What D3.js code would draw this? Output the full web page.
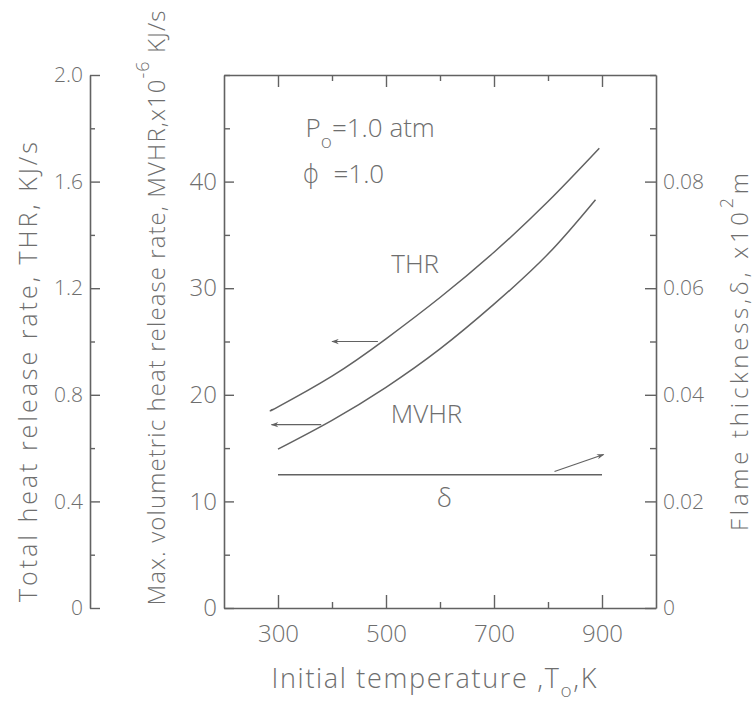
<!DOCTYPE html>
<html>
<head>
<meta charset="utf-8">
<script src="https://cdn.jsdelivr.net/npm/d3@7"></script>
<style>
  body { margin: 0; background: #fff; }
  svg text { font-family: "Open Sans", "DejaVu Sans", sans-serif; font-weight: 300; fill: #6e6e6e; }
</style>
</head>
<body>
<svg id="chart" width="754" height="704"></svg>
<script>
// data (temperature in K)
const thrTemps = [290, 300, 400, 500, 600, 700, 800, 895];
const thrValues = [0.745, 0.755, 0.87, 1.01, 1.165, 1.335, 1.525, 1.725];  // kJ/s
const mvhrTemps = [300, 400, 500, 600, 700, 800, 888];
const mvhrValues = [14.9, 17.6, 20.7, 24.3, 28.5, 33.2, 38.3];             // x10^-6 kJ/s
const deltaTemps = [300, 900];
const deltaValues = [0.025, 0.025];                                        // x10^2 m

const xTicks = [300, 400, 500, 600, 700, 800, 900];
const xLabels = [300, 500, 700, 900];
const mvhrTicks = d3.range(0, 11).map(i => i * 5);
const mvhrLabels = [0, 10, 20, 30, 40];
const thrTicks = d3.range(0, 11).map(i => +(i * 0.2).toFixed(1));
const thrLabels = [0, 0.4, 0.8, 1.2, 1.6, 2.0];
const deltaTicks = d3.range(0, 11).map(i => +(i * 0.01).toFixed(2));
const deltaLabels = [0, 0.02, 0.04, 0.06, 0.08];

const svg = d3.select("#chart");
const ink = "#626262";
const box = { left: 224, right: 656, top: 75, bottom: 608 };

const x = d3.scaleLinear().domain([200, 1000]).range([box.left, box.right]);
const yMvhr = d3.scaleLinear().domain([0, 50]).range([box.bottom, box.top]);
const yThr = d3.scaleLinear().domain([0, 2]).range([box.bottom, box.top]);
const yDelta = d3.scaleLinear().domain([0, 0.1]).range([box.bottom, box.top]);

// ticks point inward, minor ones are shorter
function finish(g, attr, sign, labels, longLen, shortLen, fontSize) {
  g.select(".domain").attr("stroke", ink).attr("stroke-width", 1.6);
  g.selectAll(".tick line")
    .attr("stroke", ink)
    .attr("stroke-width", 1.4)
    .attr(attr, d => sign * (labels.includes(d) ? longLen : shortLen));
  g.selectAll(".tick text").attr("font-size", fontSize);
}

const fmt = f => d => d === 0 ? "0" : d3.format(f)(d);

// bottom
const gBottom = svg.append("g").attr("transform", `translate(0,${box.bottom})`)
  .call(d3.axisBottom(x).tickValues(xTicks).tickSizeInner(-12).tickSizeOuter(0).tickPadding(17)
    .tickFormat(d => xLabels.includes(d) ? d : ""));
finish(gBottom, "y2", -1, xLabels, 13, 6, 24);

// top
const gTop = svg.append("g").attr("transform", `translate(0,${box.top})`)
  .call(d3.axisTop(x).tickValues(xTicks).tickSizeInner(-12).tickSizeOuter(0).tickFormat(""));
finish(gTop, "y2", 1, xLabels, 12, 6, 24);

// left main (MVHR)
const gLeft = svg.append("g").attr("transform", `translate(${box.left},0)`)
  .call(d3.axisLeft(yMvhr).tickValues(mvhrTicks).tickSizeInner(-12).tickSizeOuter(0).tickPadding(7)
    .tickFormat(d => mvhrLabels.includes(d) ? d : ""));
finish(gLeft, "x2", 1, mvhrLabels, 10, 6, 24);

// right (flame thickness)
const gRight = svg.append("g").attr("transform", `translate(${box.right},0)`)
  .call(d3.axisRight(yDelta).tickValues(deltaTicks).tickSizeInner(-12).tickSizeOuter(0).tickPadding(7)
    .tickFormat(d => deltaLabels.includes(d) ? fmt(".2f")(d) : ""));
finish(gRight, "x2", -1, deltaLabels, 11, 6, 21);

// outer left (THR)
const gThr = svg.append("g").attr("transform", "translate(90,0)")
  .call(d3.axisLeft(yThr).tickValues(thrTicks).tickSizeInner(-10).tickSizeOuter(0).tickPadding(7)
    .tickFormat(d => thrLabels.includes(d) ? fmt(".1f")(d) : ""));
finish(gThr, "x2", 1, thrLabels, 10, 5, 21);

// curves
const line = (y) => d3.line().x(d => x(d[0])).y(d => y(d[1])).curve(d3.curveNatural);

svg.append("path")
  .datum(d3.zip(thrTemps, thrValues))
  .attr("d", line(yThr))
  .attr("fill", "none").attr("stroke", ink).attr("stroke-width", 1.5);

svg.append("path")
  .datum(d3.zip(mvhrTemps, mvhrValues))
  .attr("d", line(yMvhr))
  .attr("fill", "none").attr("stroke", ink).attr("stroke-width", 1.5);

svg.append("path")
  .datum(d3.zip(deltaTemps, deltaValues))
  .attr("d", line(yDelta))
  .attr("fill", "none").attr("stroke", ink).attr("stroke-width", 1.5);

// arrows telling which axis each curve belongs to
svg.append("defs").append("marker")
  .attr("id", "head")
  .attr("viewBox", "0 -4 10 8")
  .attr("refX", 9).attr("refY", 0)
  .attr("markerWidth", 9).attr("markerHeight", 6)
  .attr("markerUnits", "userSpaceOnUse")
  .attr("orient", "auto")
  .append("path")
    .attr("d", "M0,-3.5L10,0L0,3.5L3,0Z")
    .attr("fill", ink);

const arrows = [
  { y: yThr, from: [485, 1.0], to: [400, 1.0] },
  { y: yMvhr, from: [380, 17.2], to: [288, 17.2] },
  { y: yDelta, from: [812, 0.0256], to: [903, 0.0288] }
];

svg.selectAll(".arrow")
  .data(arrows)
  .join("line")
    .classed("arrow", true)
    .attr("x1", d => x(d.from[0])).attr("y1", d => d.y(d.from[1]))
    .attr("x2", d => x(d.to[0])).attr("y2", d => d.y(d.to[1]))
    .attr("stroke", ink).attr("stroke-width", 1.2)
    .attr("marker-end", "url(#head)");

// curve labels
const notes = svg.append("g").attr("font-size", 26);
notes.append("text").attr("x", x(554)).attr("y", yMvhr(31.4))
  .attr("text-anchor", "middle").text("THR");
notes.append("text").attr("x", x(575)).attr("y", yMvhr(17.4))
  .attr("text-anchor", "middle").text("MVHR");
notes.append("text").attr("x", x(608)).attr("y", yMvhr(9.5))
  .attr("text-anchor", "middle").text("δ");

const p = notes.append("text").attr("x", x(351)).attr("y", yMvhr(44.2));
p.append("tspan").text("P");
p.append("tspan").attr("dy", 11).attr("font-size", 19).text("o");
p.append("tspan").attr("dy", -11).text("=1.0 atm");

const phi = notes.append("text").attr("x", x(345)).attr("y", yMvhr(39.9));
phi.append("tspan").text("ϕ");
phi.append("tspan").attr("dx", 14).text("=1.0");

// axis titles, stretched to the span they take in the figure
const xt = svg.append("text")
  .attr("x", 434).attr("y", 688)
  .attr("text-anchor", "middle").attr("font-size", 27)
  .attr("textLength", 325).attr("lengthAdjust", "spacing");
xt.append("tspan").text("Initial temperature ,T");
xt.append("tspan").attr("dy", 9).attr("font-size", 19).text("o");
xt.append("tspan").attr("dy", -9).text(",K");

svg.append("text")
  .attr("transform", "translate(37,372) rotate(-90)")
  .attr("text-anchor", "middle").attr("font-size", 25)
  .attr("textLength", 460).attr("lengthAdjust", "spacing")
  .text("Total heat release rate, THR, KJ/s");

const mt = svg.append("text")
  .attr("transform", "translate(165,308) rotate(-90)")
  .attr("text-anchor", "middle").attr("font-size", 24)
  .attr("textLength", 595).attr("lengthAdjust", "spacing");
mt.append("tspan").text("Max. volumetric heat release rate, MVHR,x10");
mt.append("tspan").attr("dy", -16).attr("font-size", 18).text("-6");
mt.append("tspan").attr("dy", 16).text(" KJ/s");

const rt = svg.append("text")
  .attr("transform", "translate(748,352) rotate(-90)")
  .attr("text-anchor", "middle").attr("font-size", 24)
  .attr("textLength", 358).attr("lengthAdjust", "spacing");
rt.append("tspan").text("Flame thickness,δ, x10");
rt.append("tspan").attr("dy", -15).attr("font-size", 18).text("2");
rt.append("tspan").attr("dy", 15).text("m");
</script>
</body>
</html>
